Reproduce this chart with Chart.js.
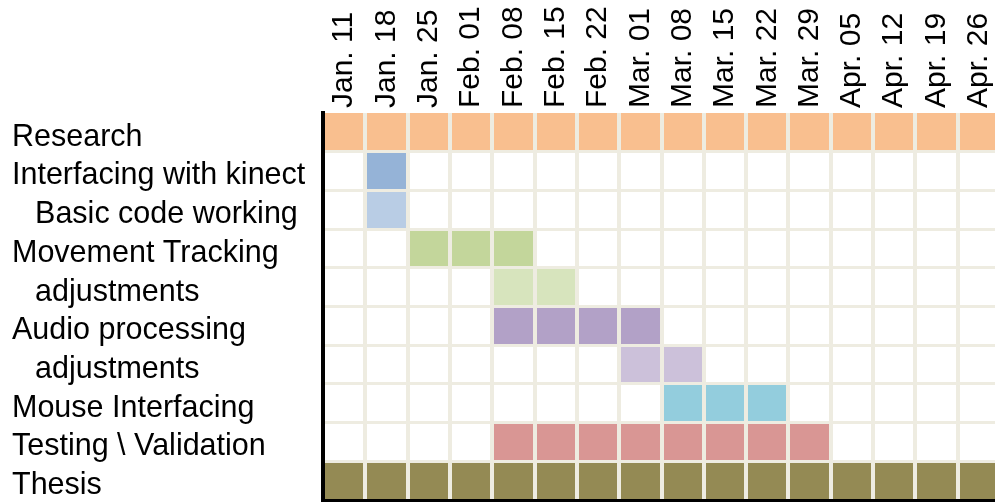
<!DOCTYPE html>
<html>
<head>
<meta charset="utf-8">
<script src="https://cdn.jsdelivr.net/npm/chart.js@4/dist/chart.umd.min.js"></script>
<style>
    html, body { margin: 0; padding: 0; background: #fff; overflow: hidden; }
    #wrap { width: 1000px; height: 502px; position: relative; }
</style>
</head>
<body>
<div id="wrap"><canvas id="gantt"></canvas></div>
<script>
// weeks along the top
const weeks = ['Jan. 11', 'Jan. 18', 'Jan. 25', 'Feb. 01', 'Feb. 08', 'Feb. 15', 'Feb. 22',
    'Mar. 01', 'Mar. 08', 'Mar. 15', 'Mar. 22', 'Mar. 29', 'Apr. 05', 'Apr. 12', 'Apr. 19', 'Apr. 26'];

// tasks, first week index and end week index (exclusive)
const tasks = ['Research', 'Interfacing with kinect', '  \u2009Basic code working', 'Movement Tracking',
    '  \u2009adjustments', 'Audio processing', '  \u2009adjustments', 'Mouse Interfacing',
    'Testing \\ Validation', 'Thesis'];
const taskStart = [0, 1, 1, 2, 4, 4, 7, 8, 4, 0];
const taskEnd = [16, 2, 2, 5, 6, 8, 9, 11, 12, 16];
const taskColors = ['#f9bf8f', '#95b3d7', '#b9cde5', '#c3d69b', '#d7e4bd',
    '#b2a1c7', '#ccc1da', '#93cddd', '#d99694', '#948a54'];

const gapColor = '#eeece1';
const family = '"Liberation Sans", Arial, sans-serif';

new Chart(document.getElementById('gantt'), {
    type: 'bar',
    data: {
        labels: tasks,
        datasets: [{
            data: tasks.map((t, i) => [taskStart[i], taskEnd[i]]),
            backgroundColor: taskColors,
            borderWidth: 0,
            barPercentage: 1,
            categoryPercentage: 1
        }]
    },
    options: {
        indexAxis: 'y',
        responsive: true,
        maintainAspectRatio: false,
        animation: false,
        layout: { padding: { left: 12, right: 0, top: 0, bottom: 2 } },
        plugins: {
            legend: { display: false },
            tooltip: { enabled: false }
        },
        scales: {
            x: {
                type: 'linear',
                position: 'bottom',
                min: 0,
                max: 16,
                ticks: { display: false, stepSize: 1, autoSkip: false },
                grid: {
                    z: 1,
                    drawTicks: false,
                    lineWidth: 4,
                    color: ctx => ctx.index === 0 ? 'rgba(0,0,0,0)' : gapColor
                },
                border: { display: true, color: '#000', width: 3, z: 2 },
                afterFit: scale => { scale.height = 0; }
            },
            weeks: {
                type: 'category',
                position: 'top',
                labels: weeks,
                offset: true,
                grid: { display: false, drawTicks: false },
                border: { display: false },
                ticks: {
                    color: '#000',
                    // lineHeight 0 keeps the rotated labels centred on their column
                    font: { family: family, size: 30, lineHeight: 0 },
                    padding: 5,
                    minRotation: 90,
                    maxRotation: 90,
                    autoSkip: false
                },
                afterFit: scale => { scale.height = 113; }
            },
            y: {
                type: 'category',
                offset: true,
                grid: {
                    z: 1,
                    offset: true,
                    drawTicks: false,
                    lineWidth: 3,
                    color: ctx => (ctx.index === 0 || ctx.index === tasks.length) ? 'rgba(0,0,0,0)' : gapColor
                },
                border: { display: true, color: '#000', width: 4, z: 2 },
                ticks: {
                    color: '#000',
                    font: { family: family, size: 30.5 },
                    crossAlign: 'far',
                    labelOffset: 5,
                    autoSkip: false
                },
                afterFit: scale => {
                    scale.width = 311;
                    scale.paddingTop = 0;
                    scale.paddingBottom = 0;
                }
            }
        }
    }
});
</script>
</body>
</html>
